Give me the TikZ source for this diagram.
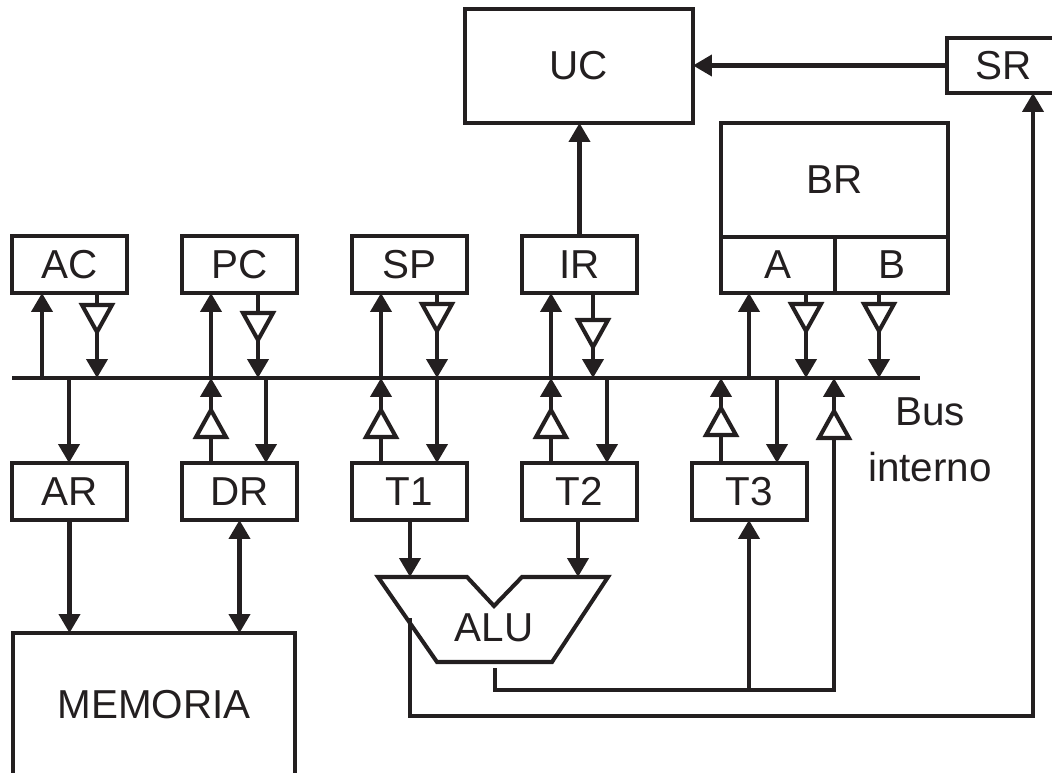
\documentclass[tikz,border=0pt]{standalone}
\usepackage{fontspec}
\setmainfont{Liberation Sans}
\usetikzlibrary{arrows.meta,calc}
\definecolor{ink}{HTML}{231F20}
\begin{document}
\begin{tikzpicture}[x=0.02cm,y=-0.02cm,
  box/.style={draw=ink, line width=2.3pt, inner sep=0pt, outer sep=0pt, text=ink, font=\fontsize{23}{27}\selectfont},
  lbl/.style={inner sep=0pt, text=ink, font=\fontsize{23}{27}\selectfont},
  wire/.style={draw=ink, line width=2.3pt},
  arr/.style={draw=ink, line width=2.3pt, -{Triangle[length=0.38cm,width=0.42cm]}},
  arrtwo/.style={draw=ink, line width=2.3pt, {Triangle[length=0.38cm,width=0.42cm]}-{Triangle[length=0.38cm,width=0.42cm]}},
  buf/.style={draw=ink, line width=2.3pt, fill=white, line join=miter},
  bufdn/.pic={\path[buf] (-15,0) -- (15,0) -- (0,27) -- cycle;},
  bufup/.pic={\path[buf] (-15,0) -- (15,0) -- (0,-27) -- cycle;}
]
\useasboundingbox (0,0) rectangle (1052,773);

% top row registers
\node[box, minimum width=2.3cm, minimum height=1.14cm] (AC) at (69.5,264.5) {AC};
\node[box, minimum width=2.3cm, minimum height=1.14cm] (PC) at (239.5,264.5) {PC};
\node[box, minimum width=2.3cm, minimum height=1.14cm] (SP) at (409.5,264.5) {SP};
\node[box, minimum width=2.3cm, minimum height=1.14cm] (IR) at (579.5,264.5) {IR};
% BR block
\node[box, minimum width=4.54cm, minimum height=2.28cm] (BR) at (834.5,180) {BR};
\node[box, minimum width=2.28cm, minimum height=1.12cm] (A) at (778,265) {A};
\node[box, minimum width=2.26cm, minimum height=1.12cm] (B) at (891.5,265) {B};
% control
\node[box, minimum width=4.56cm, minimum height=2.28cm] (UC) at (579,66) {UC};
\node[box, minimum width=2.26cm, minimum height=1.1cm] (SR) at (1003.5,65.5) {SR};
% bottom row registers
\node[box, minimum width=2.3cm, minimum height=1.14cm] (AR) at (69.5,491.5) {AR};
\node[box, minimum width=2.3cm, minimum height=1.14cm] (DR) at (239.5,491.5) {DR};
\node[box, minimum width=2.3cm, minimum height=1.14cm] (T1) at (409.5,491.5) {T1};
\node[box, minimum width=2.3cm, minimum height=1.14cm] (T2) at (579.5,491.5) {T2};
\node[box, minimum width=2.3cm, minimum height=1.14cm] (T3) at (749.5,491.5) {T3};
% memory
\node[box, minimum width=5.64cm, minimum height=2.88cm] (MEM) at (154,705) {MEMORIA};

% bus
\coordinate (busL) at (12,378);
\coordinate (busR) at (920,378);
\draw[wire] (busL) -- (busR);
\node[lbl] (bustxt) at (930,412) {Bus};
\node[lbl] (inttxt) at (930,467) {interno};

\foreach \x in {42,69,97,211,258,266,381,437,551,593,607,749,777,806,834,879,721}
  \coordinate (b\x) at (\x,378);

% AC
\draw[arr] (b42) -- (b42 |- AC.south);
\draw[arr] (AC.south -| b97) -- (b97);
\pic at (97,305) {bufdn};
\draw[arr] (b69) -- (b69 |- AR.north);
% PC / DR
\draw[arr] (b211) -- (b211 |- PC.south);
\draw[arr] (PC.south -| b258) -- (b258);
\pic at (258,313) {bufdn};
\draw[arr] (DR.north -| b211) -- (b211);
\pic at (211,437) {bufup};
\draw[arr] (b266) -- (b266 |- DR.north);
% SP / T1
\draw[arr] (b381) -- (b381 |- SP.south);
\draw[arr] (SP.south -| b437) -- (b437);
\pic at (437,304) {bufdn};
\draw[arr] (T1.north -| b381) -- (b381);
\pic at (381,437) {bufup};
\draw[arr] (b437) -- (b437 |- T1.north);
% IR / T2
\draw[arr] (b551) -- (b551 |- IR.south);
\draw[arr] (IR.south -| b593) -- (b593);
\pic at (593,320) {bufdn};
\draw[arr] (T2.north -| b551) -- (b551);
\pic at (551,437) {bufup};
\draw[arr] (b607) -- (b607 |- T2.north);
% A / B / T3
\draw[arr] (b749) -- (b749 |- A.south);
\draw[arr] (A.south -| b806) -- (b806);
\pic at (806,304) {bufdn};
\draw[arr] (B.south -| b879) -- (b879);
\pic at (879,304) {bufdn};
\draw[arr] (T3.north -| b721) -- (b721);
\pic at (721,435) {bufup};
\draw[arr] (b777) -- (b777 |- T3.north);

% control paths
\draw[arr] (IR.north) -- (IR.north |- UC.south);
\draw[arr] (SR.west) -- (SR.west -| UC.east);

% memory
\draw[arr] (AR.south) -- (AR.south |- MEM.north);
\draw[arrtwo] (DR.south) -- (DR.south |- MEM.north);

% ALU
\draw[wire, line join=miter] (378,577) -- (467,577) -- (494,606) -- (522,577) -- (608,577) -- (552,662) -- (437,662) -- cycle;
\node[lbl] (ALU) at (494,628) {ALU};
\coordinate (aluA) at (410,577);
\coordinate (aluB) at (578,577);
\draw[arr] (T1.south -| aluA) -- (aluA);
\draw[arr] (T2.south -| aluB) -- (aluB);

% ALU result
\coordinate (aluO) at (495,668);
\coordinate (jT3) at (749,690);
\coordinate (cR) at (834,690);
\draw[arr] (aluO) |- (cR) -- (b834);
\pic at (834,438) {bufup};
\draw[arr] (jT3) -- (jT3 |- T3.south);

% ALU flags to SR
\coordinate (aluF) at (410,618);
\coordinate (cS) at (1033,716);
\draw[arr] (aluF) |- (cS) -- (cS |- SR.south);
\end{tikzpicture}
\end{document}
